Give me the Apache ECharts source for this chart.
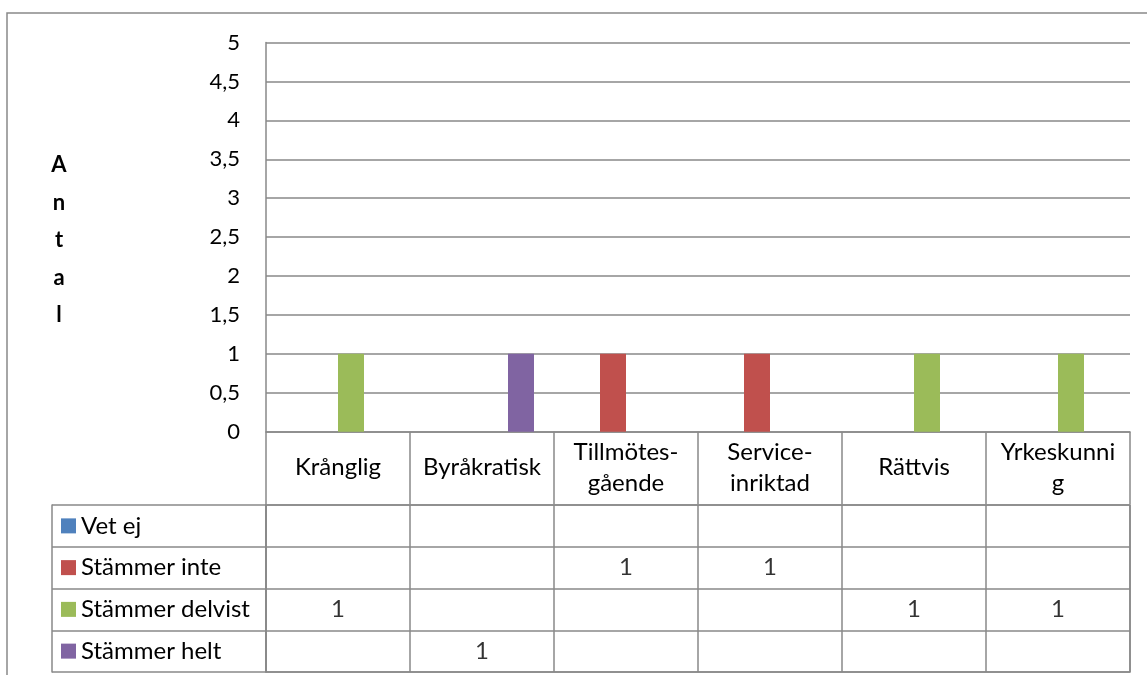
<!DOCTYPE html>
<html>
<head>
<meta charset="utf-8">
<script src="https://cdn.jsdelivr.net/npm/echarts@6/dist/echarts.min.js"></script>
<style>
html,body{margin:0;padding:0;background:#fff;}
#chart{width:1147px;height:675px;}
</style>
</head>
<body>
<div id="chart"></div>
<script>
// ---- data ----
var categories = ['Krånglig', 'Byråkratisk', 'Tillmötes-\ngående', 'Service-\ninriktad', 'Rättvis', 'Yrkeskunni\ng'];
var seriesNames = ['Vet ej', 'Stämmer inte', 'Stämmer delvist', 'Stämmer helt'];
var vetEj          = [null, null, null, null, null, null];
var stammerInte    = [null, null, 1, 1, null, null];
var stammerDelvist = [1, null, null, null, 1, 1];
var stammerHelt    = [null, 1, null, null, null, null];
var yTicks = [0, 0.5, 1, 1.5, 2, 2.5, 3, 3.5, 4, 4.5, 5];
var yTitle = 'Antal';

var seriesValues = [vetEj, stammerInte, stammerDelvist, stammerHelt];
var colors = ['#4F81BD', '#C0504D', '#9BBB59', '#8064A2'];
var FONT = 'Lato';
var FS = 24;
var FS_TICK = 22;
var GRAY = '#898989';

var tableData = [];
seriesValues.forEach(function (arr, s) {
  arr.forEach(function (v, c) {
    if (v !== null && v !== undefined) tableData.push([c, s, v]);
  });
});

var rich = { t: { fontFamily: FONT, fontSize: FS, color: '#000', padding: [0, 0, 0, 5] } };
colors.forEach(function (c, i) { rich['m' + i] = { width: 15, height: 15, backgroundColor: c }; });

var chart = echarts.init(document.getElementById('chart'), null, { renderer: 'canvas' });
var option = {
  animation: false,
  backgroundColor: '#fff',
  textStyle: { fontFamily: FONT },
  graphic: [
    { type: 'rect', shape: { x: 7, y: 13, width: 1160, height: 700 },
      style: { fill: 'none', stroke: GRAY, lineWidth: 1.5 }, silent: true },
    { type: 'text', x: 59, y: 240,
      style: { text: yTitle.split('').join('\n'), font: 'bold 22px ' + FONT, fill: '#000',
               align: 'center', verticalAlign: 'middle', lineHeight: 37.5 } }
  ],
  grid: [
    { left: 266, top: 42.5, width: 864, height: 389.2 },
    { left: 266, top: 505, width: 864, height: 167, show: true, borderColor: GRAY, borderWidth: 1.5 }
  ],
  xAxis: [
    { type: 'category', gridIndex: 0, data: categories,
      axisLine: { show: true, lineStyle: { color: GRAY, width: 1.5 } },
      axisTick: { show: true, length: 72.5, interval: 0, alignWithLabel: false, lineStyle: { color: GRAY, width: 1.5 } },
      axisLabel: { interval: 0, margin: 36, verticalAlign: 'middle', color: '#000', fontFamily: FONT, fontSize: FS, lineHeight: 31, align: 'center' },
      splitLine: { show: false } },
    { type: 'category', gridIndex: 1, data: categories,
      axisLine: { show: false }, axisTick: { show: false }, axisLabel: { show: false },
      splitLine: { show: true, interval: 0, lineStyle: { color: GRAY, width: 1.5 } } }
  ],
  yAxis: [
    { type: 'value', gridIndex: 0, min: 0, max: 5, interval: 0.5,
      axisLine: { show: true, lineStyle: { color: GRAY, width: 1.5 } },
      axisTick: { show: false },
      axisLabel: { margin: 26, color: '#000', fontFamily: FONT, fontSize: FS_TICK,
                   formatter: function (v) { return String(v).replace('.', ','); } },
      splitLine: { show: true, lineStyle: { color: GRAY, width: 1.5 } } },
    { type: 'category', gridIndex: 1, data: seriesNames, inverse: true,
      axisLine: { show: true, lineStyle: { color: GRAY, width: 1.5 } },
      axisTick: { show: true, length: 214, interval: 0, alignWithLabel: false, lineStyle: { color: GRAY, width: 1.5 } },
      axisLabel: { interval: 0, margin: 205, align: 'left', rich: rich,
                   formatter: function (v, i) { return '{m' + i + '|}{t|' + v + '}'; } },
      splitLine: { show: true, interval: 0, lineStyle: { color: GRAY, width: 1.5 } } },
    { type: 'category', gridIndex: 1, data: seriesNames, inverse: true, position: 'left', offset: 214,
      axisLine: { show: true, lineStyle: { color: GRAY, width: 1.5 } },
      axisTick: { show: false }, axisLabel: { show: false }, splitLine: { show: false } }
  ],
  series: seriesNames.map(function (name, i) {
    return { type: 'bar', name: name, xAxisIndex: 0, yAxisIndex: 0, data: seriesValues[i],
             barWidth: 26, barGap: '0%', itemStyle: { color: colors[i] } };
  }).concat([{
    type: 'scatter', xAxisIndex: 1, yAxisIndex: 1, data: tableData, symbolSize: 1,
    itemStyle: { color: 'rgba(0,0,0,0)' },
    label: { show: true, position: 'inside', color: '#000', fontFamily: FONT, fontSize: FS,
             formatter: function (p) { return String(p.value[2]); } }
  }])
};
chart.setOption(option);
</script>
</body>
</html>
